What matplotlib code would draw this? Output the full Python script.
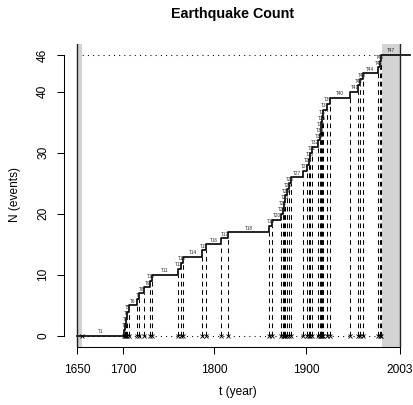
import numpy as np
import matplotlib
matplotlib.use("Agg")
import matplotlib.pyplot as plt

plt.rcParams['font.family'] = ['Liberation Sans', 'DejaVu Sans']

# ---- data ----
start_year = 1650
obs_end = 2003
line_end = 2014
pre_marks = [1655]
events = [1701, 1702, 1703, 1704, 1707, 1715, 1718, 1723, 1730, 1731.5,
          1760, 1763, 1766, 1786, 1791, 1807, 1815, 1860, 1863, 1873,
          1874.5, 1876, 1877.5, 1879, 1881, 1884, 1896.5, 1901, 1903, 1905,
          1907, 1913, 1915, 1916, 1917, 1918, 1919, 1923, 1926, 1948.5,
          1957.5, 1959.5, 1962, 1979, 1980.5, 1982]
shade_left = (1650, 1655)
shade_right = (1983, 2003)
x_ticks = [1650, 1700, 1800, 1900, 2003]
y_ticks = [0, 10, 20, 30, 40, 46]
step_labels = ["T%d" % (i + 1) for i in range(len(events) + 1)]

W, H = 414, 405
fig = plt.figure(figsize=(W / 100, H / 100), dpi=100)
L, R, B, T = 64.4, 413.0, 347.2, 43.7
ax = fig.add_axes([L / W, 1 - B / H, (R - L) / W, (B - T) / H])

n = len(events)
rng = obs_end - start_year
ax.set_xlim(start_year - 0.04 * rng, obs_end + 0.04 * rng)
ax.set_ylim(-0.04 * n, n * 1.04)

ev = np.array(events)
levels = np.arange(1, n + 1)

# dotted reference lines
ax.hlines([0, n], start_year, obs_end, colors='black', linewidth=0.75,
          linestyles=(0, (1, 4)), zorder=1)
# grey shading
ax.axvspan(*shade_left, color='#d3d3d3', lw=0, zorder=2)
ax.axvspan(*shade_right, color='#d3d3d3', lw=0, zorder=2)
# dashed verticals
ax.vlines(ev, 0, levels - 1, colors='black', linewidth=0.75,
          linestyles=(0, (4.5, 3.5)), zorder=3)
# step function
xs = np.concatenate([[start_year], ev, [line_end]])
ys = np.concatenate([[0], levels, [n]])
ax.step(xs, ys, where='post', color='black', linewidth=1.2, zorder=4)
# x markers
ax.plot(np.concatenate([pre_marks, ev]), np.zeros(n + 1), 'x', color='black',
        ms=3.5, mew=0.6, zorder=5)
# labels
xl = np.concatenate([[start_year], ev, [obs_end]])
for i, lab in enumerate(step_labels):
    mid = (xl[i] + xl[i + 1]) / 2
    ax.text(mid, i + 0.25, lab, fontsize=3.3, ha='center', va='bottom',
            color='#222222', zorder=6)
# boundary lines
ax.axvline(start_year, color='#222222', linewidth=1.0, zorder=4)
ax.axvline(obs_end, color='#222222', linewidth=1.0, zorder=4)

# axes styling
for s in ['top', 'right']:
    ax.spines[s].set_visible(False)
ax.spines['left'].set_bounds(0, n)
ax.spines['bottom'].set_bounds(start_year, obs_end)
for s in ['left', 'bottom']:
    ax.spines[s].set_linewidth(0.75)
ax.set_xticks(x_ticks)
ax.set_yticks(y_ticks)
ax.tick_params(length=5, width=0.75, labelsize=8.6)
ax.tick_params(axis='x', pad=7)
ax.tick_params(axis='y', pad=6)
plt.setp(ax.get_yticklabels(), rotation=90, va='center', ha='right')

fig.text(233 / W, 1 - 14 / H, "Earthquake Count", fontsize=10.3,
         fontweight='bold', ha='center', va='center')
fig.text(238 / W, 1 - 392 / H, "t (year)", fontsize=8.6, ha='center',
         va='center')
fig.text(15 / W, 1 - 195 / H, "N (events)", fontsize=8.6, ha='center',
         va='center', rotation=90)

fig.savefig("out.png", dpi=100)
